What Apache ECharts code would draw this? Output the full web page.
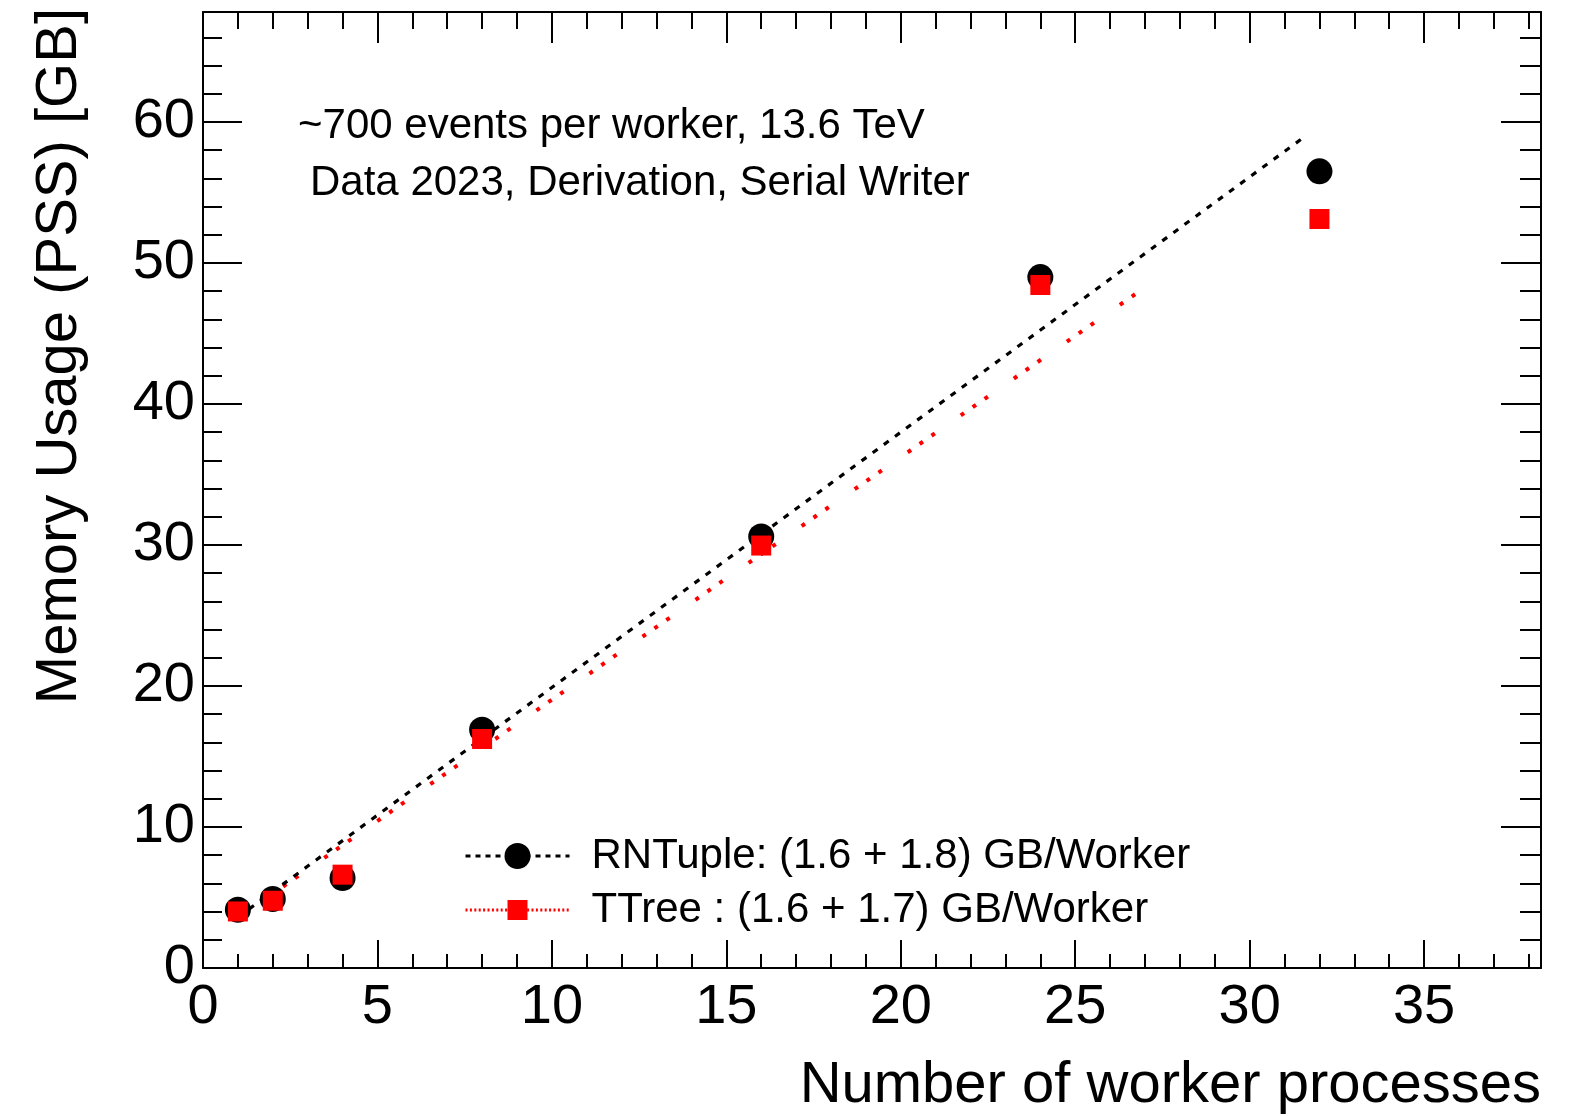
<!DOCTYPE html>
<html>
<head>
<meta charset="utf-8">
<script src="https://cdn.jsdelivr.net/npm/echarts@6/dist/echarts.min.js"></script>
<style>
  html, body { margin: 0; padding: 0; background: #fff; }
  #chart { width: 1575px; height: 1116px; }
</style>
</head>
<body>
<div id="chart"></div>
<script>
// ---- data ----
var workers = [1, 2, 4, 8, 16, 24, 32];
var rntupleMem = [4.13, 4.89, 6.38, 16.9, 30.6, 49.0, 56.5];
var ttreeMem = [4.01, 4.77, 6.62, 16.24, 29.96, 48.44, 53.12];

// fitted lines (end points)
var rntupleFitX = [1, 31.6];
var rntupleFitY = [3.6, 59.0];
var ttreeFitX = [1, 26.9];
var ttreeFitY = [3.55, 48.1];

var xTickValues = [0, 5, 10, 15, 20, 25, 30, 35];
var yTickValues = [0, 10, 20, 30, 40, 50, 60];

var rntupleName = 'RNTuple: (1.6 + 1.8) GB/Worker';
var ttreeName = 'TTree : (1.6 + 1.7) GB/Worker';
var noteLine1 = '~700 events per worker, 13.6 TeV';
var noteLine2 = 'Data 2023, Derivation, Serial Writer';
var xTitle = 'Number of worker processes';
var yTitle = 'Memory Usage (PSS) [GB]';

var X_MAX = 38.35, Y_MAX = 67.8;
var FONT = "'Liberation Sans', Arial, Helvetica, sans-serif";

function pairs(xs, ys) { return xs.map(function (x, i) { return [x, ys[i]]; }); }

var chart = echarts.init(document.getElementById('chart'), null, { renderer: 'canvas' });

var gridBox = { left: 203, right: 34, top: 12, bottom: 148 };
var axisLineStyle = { color: '#000', width: 2 };

function xAx(gridIndex, position, interval, tickLen, showLine, showLabel) {
  return {
    type: 'value', gridIndex: gridIndex, position: position,
    min: 0, max: X_MAX, interval: interval,
    axisLine: { show: showLine, onZero: false, lineStyle: axisLineStyle },
    axisTick: { show: true, inside: true, length: tickLen, lineStyle: { color: '#000', width: 2 } },
    axisLabel: {
      show: showLabel, margin: 12, fontSize: 56, color: '#000', fontFamily: FONT,
      showMaxLabel: false,
      formatter: function (v) { return xTickValues.indexOf(v) >= 0 ? String(v) : ''; }
    },
    splitLine: { show: false }
  };
}
function yAx(gridIndex, position, interval, tickLen, showLine, showLabel) {
  return {
    type: 'value', gridIndex: gridIndex, position: position,
    min: 0, max: Y_MAX, interval: interval,
    axisLine: { show: showLine, onZero: false, lineStyle: axisLineStyle },
    axisTick: { show: true, inside: true, length: tickLen, lineStyle: { color: '#000', width: 2 } },
    axisLabel: {
      show: showLabel, margin: 8, fontSize: 56, color: '#000', fontFamily: FONT,
      showMaxLabel: false,
      formatter: function (v) { return yTickValues.indexOf(v) >= 0 ? String(v) : ''; }
    },
    splitLine: { show: false }
  };
}

var option = {
  animation: false,
  backgroundColor: '#fff',
  textStyle: { fontFamily: FONT },
  grid: [
    Object.assign({ containLabel: false }, gridBox),
    Object.assign({ containLabel: false }, gridBox)
  ],
  xAxis: [
    xAx(0, 'bottom', 5, 28, true, true),
    xAx(0, 'top', 5, 31, true, false),
    xAx(1, 'bottom', 1, 14, false, false),
    xAx(1, 'top', 1, 17, false, false)
  ],
  yAxis: [
    yAx(0, 'left', 10, 39, true, true),
    yAx(0, 'right', 10, 40, true, false),
    yAx(1, 'left', 2, 19, false, false),
    yAx(1, 'right', 2, 21, false, false)
  ],
  legend: [
    {
      data: [rntupleName],
      orient: 'vertical', left: 464, top: 835, padding: 0,
      itemWidth: 104, itemHeight: 32.5,
      selectedMode: false,
      lineStyle: { color: '#000', width: 3, type: [5, 5], opacity: 1 },
      textStyle: { fontSize: 42, color: '#000', fontFamily: FONT, padding: [0, 0, 0, 17] }
    },
    {
      data: [ttreeName],
      orient: 'vertical', left: 464, top: 889, padding: 0,
      itemWidth: 104, itemHeight: 25,
      selectedMode: false,
      lineStyle: { color: '#ff0000', width: 3, type: [2, 2.4], opacity: 1 },
      textStyle: { fontSize: 42, color: '#000', fontFamily: FONT, padding: [0, 0, 0, 17] }
    }
  ],
  graphic: [
    { type: 'text', left: 298, top: 105, silent: true,
      style: { text: noteLine1, fontSize: 42, fontFamily: FONT, fill: '#000' } },
    { type: 'text', left: 310, top: 162, silent: true,
      style: { text: noteLine2, fontSize: 42, fontFamily: FONT, fill: '#000' } },
    { type: 'text', x: 1541, y: 1086, silent: true,
      style: { text: xTitle, fontSize: 58, fontFamily: FONT, fill: '#000', align: 'right', verticalAlign: 'middle' } },
    { type: 'text', x: 60, y: 8, rotation: Math.PI / 2, silent: true,
      style: { text: yTitle, fontSize: 58, fontFamily: FONT, fill: '#000', align: 'right', verticalAlign: 'middle' } }
  ],
  series: [
    {
      name: 'TTree fit', type: 'line', xAxisIndex: 0, yAxisIndex: 0,
      data: pairs(ttreeFitX, ttreeFitY), symbol: 'none', silent: true, z: 2,
      lineStyle: { color: '#ff0000', width: 4, type: [4, 10.5, 4, 10.5, 4, 31.6], dashOffset: 24, cap: 'butt' }
    },
    {
      name: 'RNTuple fit', type: 'line', xAxisIndex: 0, yAxisIndex: 0,
      data: pairs(rntupleFitX, rntupleFitY), symbol: 'none', silent: true, z: 2,
      lineStyle: { color: '#000', width: 3.2, type: [6, 7.8], cap: 'butt' }
    },
    {
      name: rntupleName, type: 'line', xAxisIndex: 0, yAxisIndex: 0,
      data: pairs(workers, rntupleMem), symbol: 'circle', symbolSize: 26, z: 3,
      itemStyle: { color: '#000', borderWidth: 0 },
      lineStyle: { width: 0, opacity: 0 }
    },
    {
      name: ttreeName, type: 'line', xAxisIndex: 0, yAxisIndex: 0,
      data: pairs(workers, ttreeMem), symbol: 'rect', symbolSize: 20, z: 4,
      itemStyle: { color: '#ff0000', borderWidth: 0 },
      lineStyle: { width: 0, opacity: 0 }
    }
  ]
};
chart.setOption(option);
</script>
</body>
</html>
